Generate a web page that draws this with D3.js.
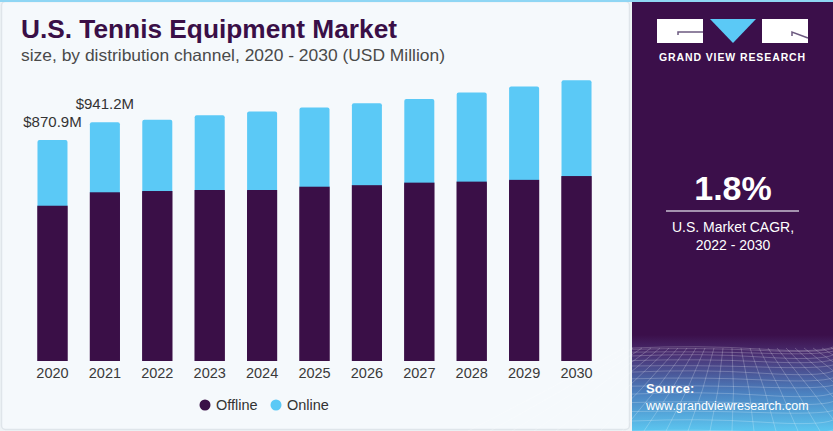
<!DOCTYPE html>
<html><head><meta charset="utf-8">
<script src="https://cdn.jsdelivr.net/npm/d3@7"></script>
<style>
html,body{margin:0;padding:0;background:#ffffff;}
svg{display:block;font-family:"Liberation Sans",Arial,sans-serif;}
</style></head>
<body>
<svg id="c" width="833" height="431"></svg>
<script>
const years = ["2020","2021","2022","2023","2024","2025","2026","2027","2028","2029","2030"];
const offline = [612, 665, 670, 674, 674, 687, 693, 703, 707, 714, 729];
const online  = [258.9, 276.2, 281, 295, 309, 312, 323, 330, 351, 368, 378];
const labels = {"2020":"$870.9M","2021":"$941.2M"};
const seriesNames = ["Offline","Online"];
const colors = {Offline:"#3a0f47", Online:"#5bc9f6"};

const svg = d3.select("#c");
const W = 833, H = 431;

// backgrounds
svg.append("rect").attr("x",0).attr("y",0).attr("width",W).attr("height",H).attr("fill","#eef3f6");
svg.append("rect").attr("x",1.5).attr("y",1.5).attr("width",628).attr("height",428).attr("rx",4)
  .attr("fill","#f5f9fc").attr("stroke","#dfe5ea").attr("stroke-width",1.5);

// right panel
const defs = svg.append("defs");
const g1 = defs.append("linearGradient").attr("id","rg").attr("x1",0).attr("y1",0).attr("x2",0).attr("y2",1);
g1.append("stop").attr("offset","0%").attr("stop-color","#3b0f4a");
g1.append("stop").attr("offset","20%").attr("stop-color","#4a2f72");
g1.append("stop").attr("offset","60%").attr("stop-color","#4b80bf");
g1.append("stop").attr("offset","100%").attr("stop-color","#5cc6f0");
svg.append("rect").attr("x",632).attr("y",0).attr("width",201).attr("height",H).attr("fill","#3b0f4a");
svg.append("rect").attr("x",632).attr("y",335).attr("width",201).attr("height",96).attr("fill","url(#rg)");
// mesh
const mesh = svg.append("g").attr("stroke","#ffffff").attr("stroke-opacity",0.28).attr("fill","none").attr("stroke-width",0.8);
const depths = d3.range(0,14).map(i => 348 + 83*Math.pow(i/13,1.6));
depths.forEach((y,i)=>{
  mesh.append("path").attr("d",`M632,${y} Q700,${y-3+ (i%3)} 760,${y+1} T833,${y-1}`);
});
d3.range(-12,13).forEach(i=>{
  const xb = 732 + i*22, xt = 732 + i*9;
  mesh.append("path").attr("d",`M${xt},348 Q${(xt+xb)/2+3},390 ${xb},431`);
});
// top blue strip
svg.append("rect").attr("x",0).attr("y",0).attr("width",W).attr("height",2).attr("fill","#8fd6f4");

// logo
const lg = svg.append("g");
lg.append("rect").attr("x",657).attr("y",19).attr("width",46).attr("height",24).attr("fill","#ffffff");
lg.append("path").attr("d","M678,35 L678,32 L703,32").attr("stroke","#6c5a80").attr("stroke-width",1.5).attr("fill","none");
lg.append("path").attr("d","M710,19 L756,19 L733,43 Z").attr("fill","#5bc9f6");
lg.append("rect").attr("x",762).attr("y",19).attr("width",46).attr("height",24).attr("fill","#ffffff");
lg.append("path").attr("d","M792,36 L792,32 L808,38").attr("stroke","#6c5a80").attr("stroke-width",1.5).attr("fill","none");
lg.append("text").attr("x",732.5).attr("y",61).attr("text-anchor","middle").attr("fill","#ffffff")
  .attr("font-size",10.5).attr("font-weight","bold").attr("letter-spacing",0.9).text("GRAND VIEW RESEARCH");

// CAGR
svg.append("text").attr("x",733).attr("y",200).attr("text-anchor","middle").attr("fill","#ffffff")
  .attr("font-size",34).attr("font-weight","bold").text("1.8%");
svg.append("line").attr("x1",666).attr("x2",799).attr("y1",211).attr("y2",211).attr("stroke","#c9bfd2").attr("stroke-width",1.5);
svg.append("text").attr("x",733).attr("y",232).attr("text-anchor","middle").attr("fill","#ffffff")
  .attr("font-size",14).text("U.S. Market CAGR,");
svg.append("text").attr("x",733).attr("y",250).attr("text-anchor","middle").attr("fill","#ffffff")
  .attr("font-size",14).text("2022 - 2030");
svg.append("text").attr("x",646).attr("y",393).attr("fill","#ffffff").attr("font-size",13).attr("font-weight","bold").text("Source:");
svg.append("text").attr("x",646).attr("y",410).attr("fill","#ffffff").attr("font-size",12.5).text("www.grandviewresearch.com");

// titles
svg.append("text").attr("x",21).attr("y",38).attr("fill","#3a0f47").attr("font-size",25).attr("font-weight","900")
  .attr("textLength",376).attr("lengthAdjust","spacingAndGlyphs")
  .text("U.S. Tennis Equipment Market");
svg.append("text").attr("x",21).attr("y",61).attr("fill","#4a4a4a").attr("font-size",16.5)
  .attr("textLength",424).attr("lengthAdjust","spacingAndGlyphs")
  .text("size, by distribution channel, 2020 - 2030 (USD Million)");

// scales
const x = d3.scaleBand().domain(years).range([27,602]).paddingInner(0.4275).paddingOuter(0.2);
const y = d3.scaleLinear().domain([0,1200]).range([361, 361-1200*0.2537]);

const data = years.map((yr,i)=>({year:yr, Offline:offline[i], Online:online[i]}));
const stack = d3.stack().keys(seriesNames)(data);

const bars = svg.append("g");
stack.forEach(s=>{
  bars.selectAll(null).data(s).enter().append("rect")
    .attr("x",d=>x(d.data.year))
    .attr("width",x.bandwidth())
    .attr("y",d=>y(d[1]))
    .attr("height",d=>y(d[0])-y(d[1]) + (s.key==="Online"?2:0))
    .attr("rx", s.key==="Online"?2:0)
    .attr("fill",colors[s.key]);
});
// redraw offline on top to hide rounded bottom of online
bars.selectAll(null).data(stack[0]).enter().append("rect")
  .attr("x",d=>x(d.data.year)).attr("width",x.bandwidth())
  .attr("y",d=>y(d[1])).attr("height",d=>y(d[0])-y(d[1])).attr("fill",colors.Offline);

// value labels
svg.append("g").selectAll("text").data(data.filter(d=>labels[d.year])).enter().append("text")
  .attr("x",d=>x(d.year)+x.bandwidth()/2)
  .attr("y",d=>y(d.Offline+d.Online)-13)
  .attr("text-anchor","middle").attr("fill","#333333").attr("font-size",15)
  .text(d=>labels[d.year]);

// x axis
const ax = svg.append("g").attr("transform","translate(0,361)")
  .call(d3.axisBottom(x).tickSize(0).tickPadding(6));
ax.select(".domain").remove();
ax.selectAll("text").attr("font-size",14.5).attr("fill","#3a3a3a")
  .attr("font-family","'Liberation Sans',Arial,sans-serif").attr("dy","0.71em").attr("y",6.5);

// legend
const leg = svg.append("g");
const lx = [205, 276];
seriesNames.forEach((n,i)=>{
  leg.append("circle").attr("cx",lx[i]).attr("cy",405).attr("r",5.5).attr("fill",colors[n]);
  leg.append("text").attr("x",lx[i]+11).attr("y",410).attr("font-size",14.5).attr("fill","#333333").text(n);
});
</script>
</body></html>
